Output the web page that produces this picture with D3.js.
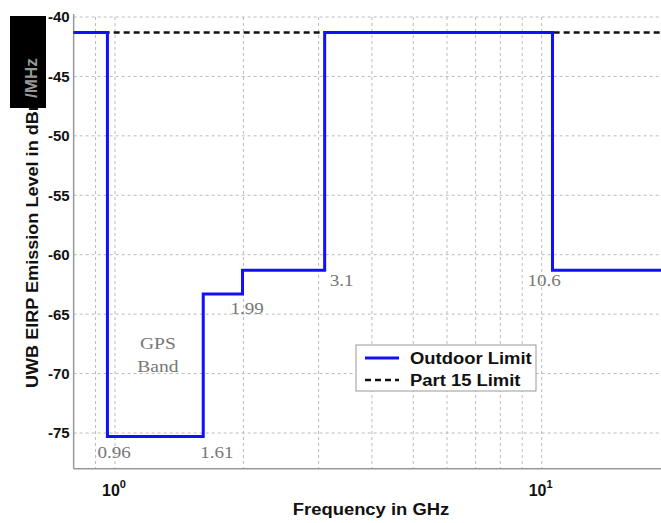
<!DOCTYPE html>
<html>
<head>
<meta charset="utf-8">
<script src="https://cdn.jsdelivr.net/npm/d3@7"></script>
<style>
  html, body { margin: 0; padding: 0; background: #fff; }
  svg { display: block; }
  .lbl { font-family: "Liberation Sans", Arial, sans-serif; font-weight: bold; fill: #111; }
  .note { font-family: "Liberation Serif", "Times New Roman", serif; font-size: 17px; fill: #777; }
</style>
</head>
<body>
<div id="chart"></div>
<script>
// step boundaries (GHz) and the outdoor limit for each band (dBm/MHz)
const bandEdges = [0.8, 0.96, 1.61, 1.99, 3.1, 10.6, 20];
const outdoorLimit = [-41.3, -75.3, -63.3, -61.3, -41.3, -61.3];
const part15Limit = -41.3;

const yTicks = [-40, -45, -50, -55, -60, -65, -70, -75];
const xMinor = [0.9, 1, 2, 3, 4, 5, 6, 7, 8, 9, 10];
const xMajor = [1, 10];

// labels written on the plot: [text, freq, level, dx]
const notes = [
    ["0.96", 0.96, -77.1, -10],
    ["1.61", 1.61, -77.1, -3],
    ["1.99", 1.99, -65.0, -12],
    ["3.1", 3.1, -62.6, 5],
    ["10.6", 10.6, -62.6, -25]
];

const W = 661, H = 523;
const svg = d3.select("#chart").append("svg").attr("width", W).attr("height", H);

// the picture is a little wider than tall: stretch text sideways
function widen(sel, k) {
    sel.each(function () {
        const n = this.getComputedTextLength();
        d3.select(this).attr("textLength", n * k).attr("lengthAdjust", "spacingAndGlyphs");
    });
    return sel;
}

const x = d3.scaleLog().domain([1, 10]).range([115, 541.7]);
const plotL = x(0.8), plotR = x(20);
const y = d3.scaleLinear().domain([-40, -75]).range([17, 433]);
const plotB = y(-78);

// grid
svg.append("g").selectAll("line")
    .data(yTicks)
    .join("line")
    .attr("x1", plotL).attr("x2", plotR)
    .attr("y1", d => y(d)).attr("y2", d => y(d))
    .attr("stroke", "#bbb").attr("stroke-width", 1)
    .attr("stroke-dasharray", "3,3");

svg.append("g").selectAll("line")
    .data(xMinor)
    .join("line")
    .attr("x1", d => x(d)).attr("x2", d => x(d))
    .attr("y1", y(-40)).attr("y2", plotB)
    .attr("stroke", "#bbb").attr("stroke-width", 1)
    .attr("stroke-dasharray", "3,3");

// axis lines
svg.append("line")
    .attr("x1", plotL).attr("x2", plotL)
    .attr("y1", y(-40) - 3).attr("y2", plotB)
    .attr("stroke", "#999").attr("stroke-width", 1.5);
svg.append("line")
    .attr("x1", plotL).attr("x2", plotR)
    .attr("y1", plotB).attr("y2", plotB)
    .attr("stroke", "#999").attr("stroke-width", 1.5);

// y tick labels
svg.append("g").selectAll("text")
    .data(yTicks)
    .join("text")
    .attr("class", "lbl")
    .attr("font-size", "15px")
    .attr("x", plotL - 4)
    .attr("y", d => y(d))
    .attr("dy", "0.36em")
    .attr("text-anchor", "end")
    .text(d => d);

// x tick labels 10^0, 10^1
const xt = svg.append("g").selectAll("text")
    .data(xMajor)
    .join("text")
    .attr("class", "lbl")
    .attr("font-size", "16px")
    .attr("x", d => x(d) - 13)
    .attr("y", plotB + 27);
xt.append("tspan").text("10");
xt.append("tspan").attr("dy", -8).attr("font-size", "11px").text(d => Math.round(Math.log10(d)));

// part 15 limit
svg.append("line")
    .attr("x1", x(bandEdges[0])).attr("x2", plotR + 10)
    .attr("y1", y(part15Limit)).attr("y2", y(part15Limit))
    .attr("stroke", "#111").attr("stroke-width", 2.5)
    .attr("stroke-dasharray", "6,4");

// outdoor limit (step)
const pts = bandEdges.map((f, i) => [f, outdoorLimit[Math.min(i, outdoorLimit.length - 1)]]);
svg.append("path")
    .datum(pts)
    .attr("fill", "none")
    .attr("stroke", "#1010ff")
    .attr("stroke-width", 3)
    .attr("d", d3.line().x(d => x(d[0])).y(d => y(d[1])).curve(d3.curveStepAfter));

// notes
widen(svg.append("g").selectAll("text")
    .data(notes)
    .join("text")
    .attr("class", "note")
    .attr("x", d => x(d[1]) + d[3])
    .attr("y", d => y(d[2]))
    .text(d => d[0]), 1.12);

const gpsX = x(1.26);
widen(svg.append("g").selectAll("text")
    .data(["GPS", "Band"])
    .join("text")
    .attr("class", "note")
    .attr("text-anchor", "middle")
    .attr("x", gpsX)
    .attr("y", (d, i) => y(-67.9) + i * 23)
    .text(d => d), 1.15);

// legend
const lg = svg.append("g").attr("transform", "translate(356,345)");
lg.append("rect").attr("width", 180).attr("height", 46)
    .attr("fill", "#fff").attr("stroke", "#999").attr("stroke-width", 1);
lg.append("line").attr("x1", 9).attr("x2", 43).attr("y1", 13).attr("y2", 13)
    .attr("stroke", "#1010ff").attr("stroke-width", 3);
lg.append("line").attr("x1", 9).attr("x2", 43).attr("y1", 35).attr("y2", 35)
    .attr("stroke", "#111").attr("stroke-width", 2.5).attr("stroke-dasharray", "6,4");
widen(lg.selectAll("text.item")
    .data(["Outdoor Limit", "Part 15 Limit"])
    .join("text")
    .attr("class", "lbl item")
    .attr("font-size", "16px")
    .attr("x", 54)
    .attr("y", (d, i) => 13 + i * 22)
    .attr("dy", "0.36em")
    .text(d => d), 1.15);

// axis titles
widen(svg.append("text").attr("class", "lbl")
    .attr("font-size", "16px")
    .attr("x", 371).attr("y", 515)
    .attr("text-anchor", "middle")
    .text("Frequency in GHz"), 1.15);

svg.append("text").attr("class", "lbl")
    .attr("font-size", "17px")
    .attr("transform", "translate(38,388) rotate(-90)")
    .attr("textLength", 335)
    .attr("lengthAdjust", "spacingAndGlyphs")
    .text("UWB EIRP Emission Level in dBm/MHz");

// the black patch over the top of the y title
svg.append("rect").attr("x", 10).attr("y", 16).attr("width", 36).attr("height", 92).attr("fill", "#000");
svg.append("text").attr("class", "lbl")
    .attr("font-size", "17px")
    .attr("transform", "translate(37,98) rotate(-90)")
    .style("fill", "#999")
    .text("/MHz");
</script>
</body>
</html>
